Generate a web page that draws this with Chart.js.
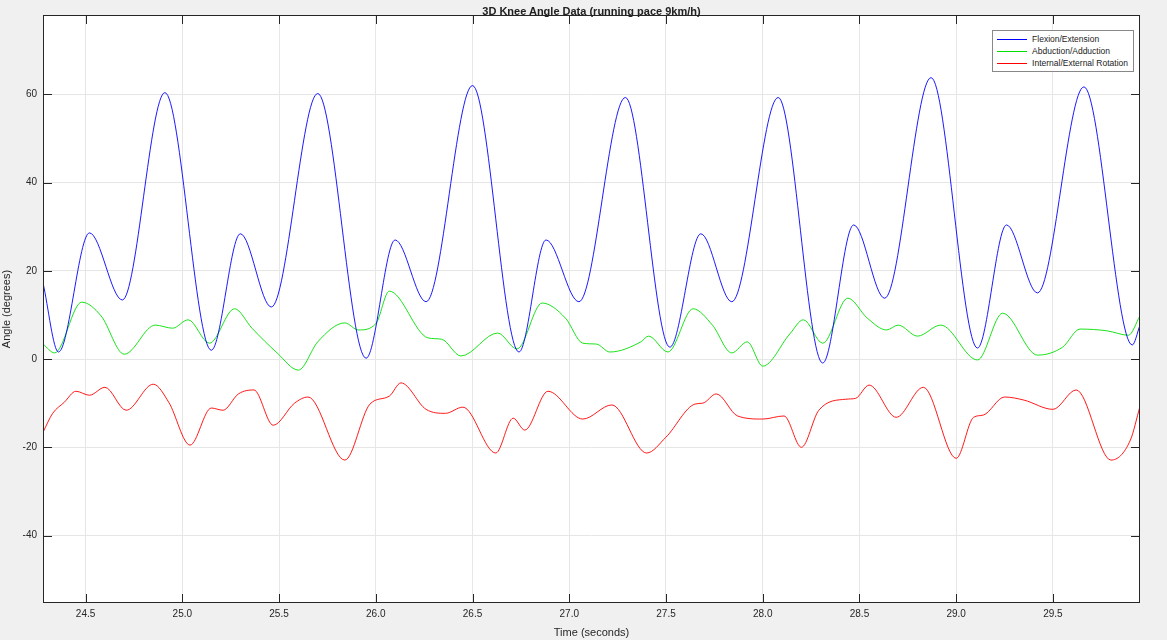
<!DOCTYPE html>
<html>
<head>
<meta charset="utf-8">
<script src="https://cdn.jsdelivr.net/npm/chart.js@4"></script>
<style>
  body { margin: 0; background: #f0f0f0; font-family: "Liberation Sans", Arial, sans-serif; }
  #wrap { position: relative; width: 1167px; height: 640px; }
  #title { position: absolute; top: 5px; left: 43px; width: 1097px; text-align: center; font-size: 11px; font-weight: bold; color: #222; }
  #legend { position: absolute; top: 30px; right: 33px; background: #fff; border: 1px solid #888; padding: 2px 5px 2px 4px; font-size: 8.5px; color: #222; line-height: 12px; }
  #legend span.sw { display: inline-block; width: 30px; height: 1px; vertical-align: middle; margin-right: 5px; }
</style>
</head>
<body>
<div id="wrap">
  <canvas id="c" width="1167" height="640"></canvas>
  <div id="title">3D Knee Angle Data (running pace 9km/h)</div>
  <div id="legend">
    <div><span class="sw" style="background:#0000ff"></span>Flexion/Extension</div>
    <div><span class="sw" style="background:#00e000"></span>Abduction/Adduction</div>
    <div><span class="sw" style="background:#ff0000"></span>Internal/External Rotation</div>
  </div>
</div>
<script>
// Keypoints (time in s, angle in degrees)
const flexT = [24.28,24.36,24.52,24.69,24.91,25.15,25.30,25.46,25.70,25.95,26.10,26.26,26.50,26.74,26.88,27.05,27.29,27.52,27.68,27.84,28.08,28.31,28.47,28.63,28.87,29.11,29.26,29.42,29.66,29.91,29.95];
const flexV = [17.3,1.6,28.6,13.4,60.4,2.0,28.4,11.8,60.2,0.2,27.0,13.0,62.0,1.6,27.0,13.0,59.3,2.7,28.4,13.0,59.3,-0.9,30.4,13.8,63.8,2.5,30.4,15.0,61.7,3.2,7.7];

const abdT = [24.28,24.34,24.48,24.58,24.70,24.86,24.95,25.03,25.14,25.27,25.36,25.49,25.60,25.70,25.84,25.91,26.00,26.07,26.27,26.34,26.44,26.63,26.73,26.86,26.98,27.07,27.14,27.21,27.37,27.41,27.51,27.64,27.74,27.84,27.92,28.00,28.14,28.21,28.31,28.44,28.54,28.64,28.70,28.80,28.92,29.11,29.24,29.42,29.55,29.64,29.78,29.89,29.95];
const abdV = [3.4,1.4,12.9,9.8,1.1,7.7,7.0,8.9,3.6,11.4,7.0,1.4,-2.5,3.9,8.2,6.6,8.0,15.4,4.8,4.5,0.7,5.9,2.3,12.7,9.3,3.6,3.4,1.6,3.9,5.2,1.6,11.4,7.7,1.4,3.9,-1.6,5.7,8.9,3.6,13.8,9.3,6.6,7.7,5.2,7.7,-0.2,10.4,0.9,2.7,6.8,6.4,5.4,9.8];

const rotT = [24.28,24.33,24.39,24.45,24.52,24.60,24.71,24.85,24.93,25.04,25.15,25.21,25.29,25.37,25.47,25.58,25.65,25.84,25.97,26.07,26.13,26.26,26.36,26.45,26.62,26.71,26.77,26.89,27.07,27.22,27.40,27.50,27.65,27.69,27.76,27.87,28.00,28.11,28.20,28.29,28.43,28.48,28.55,28.69,28.83,29.00,29.09,29.14,29.25,29.35,29.50,29.62,29.80,29.90,29.95];
const rotV = [-16.6,-12.3,-9.8,-7.3,-8.2,-6.4,-11.6,-5.7,-9.8,-19.5,-11.1,-11.6,-7.9,-7.0,-15.0,-10.0,-8.6,-22.9,-10.2,-8.4,-5.4,-11.4,-12.3,-10.9,-21.3,-13.4,-16.1,-7.3,-13.6,-10.4,-21.3,-17.7,-10.2,-10.0,-7.9,-12.9,-13.6,-12.9,-20.0,-11.6,-9.1,-8.9,-5.9,-13.2,-6.4,-22.5,-13.2,-12.7,-8.6,-9.3,-11.4,-7.0,-22.9,-18.4,-10.7];

const xTicks = [24.5,25,25.5,26,26.5,27,27.5,28,28.5,29,29.5];
const yTicks = [-40,-20,0,20,40,60];

function pts(t, v) { return t.map((x, i) => ({ x: x, y: v[i] })); }

function ds(label, t, v, color) {
    return {
        label: label,
        data: pts(t, v),
        borderColor: color,
        borderWidth: 0.9,
        pointRadius: 0,
        cubicInterpolationMode: 'monotone',
        fill: false
    };
}

// white plot area + frame with inward ticks
const framePlugin = {
    id: 'frame',
    beforeDraw(chart) {
        const a = chart.chartArea, ctx = chart.ctx;
        ctx.save();
        ctx.fillStyle = '#fff';
        ctx.fillRect(a.left, a.top, a.right - a.left, a.bottom - a.top);
        ctx.restore();
    },
    afterDraw(chart) {
        const a = chart.chartArea, ctx = chart.ctx;
        const xs = chart.scales.x, ys = chart.scales.y;
        ctx.save();
        ctx.strokeStyle = '#262626';
        ctx.lineWidth = 1;
        ctx.strokeRect(a.left + 0.5, a.top + 0.5, a.right - a.left - 1, a.bottom - a.top - 1);
        ctx.beginPath();
        xTicks.forEach(t => {
            const p = Math.round(xs.getPixelForValue(t)) + 0.5;
            ctx.moveTo(p, a.bottom); ctx.lineTo(p, a.bottom - 9);
            ctx.moveTo(p, a.top); ctx.lineTo(p, a.top + 9);
        });
        yTicks.forEach(t => {
            const p = Math.round(ys.getPixelForValue(t)) + 0.5;
            ctx.moveTo(a.left, p); ctx.lineTo(a.left + 9, p);
            ctx.moveTo(a.right, p); ctx.lineTo(a.right - 9, p);
        });
        ctx.stroke();
        ctx.restore();
    }
};

new Chart(document.getElementById('c'), {
    type: 'line',
    data: {
        datasets: [
            ds('Flexion/Extension', flexT, flexV, '#0000ff'),
            ds('Abduction/Adduction', abdT, abdV, '#00e000'),
            ds('Internal/External Rotation', rotT, rotV, '#ff0000')
        ]
    },
    options: {
        responsive: false,
        animation: false,
        layout: { padding: { top: 15, right: 27, left: 0, bottom: 0 } },
        plugins: { legend: { display: false }, tooltip: { enabled: false } },
        scales: {
            x: {
                type: 'linear', min: 24.28, max: 29.95,
                afterBuildTicks: s => { s.ticks = xTicks.map(v => ({ value: v })); },
                afterFit: s => { s.height = 37; },
                grid: { color: '#e6e6e6', drawTicks: false },
                border: { display: false },
                ticks: { color: '#262626', font: { size: 10, family: 'Liberation Sans' }, padding: 5, maxRotation: 0 },
                title: { display: true, text: 'Time (seconds)', color: '#262626', font: { size: 11, family: 'Liberation Sans' }, padding: 0 }
            },
            y: {
                min: -55.3, max: 78,
                afterBuildTicks: s => { s.ticks = yTicks.map(v => ({ value: v })); },
                afterFit: s => { s.width = 43; },
                grid: { color: '#e6e6e6', drawTicks: false },
                border: { display: false },
                ticks: { color: '#262626', font: { size: 10, family: 'Liberation Sans' }, padding: 6 },
                title: { display: true, text: 'Angle (degrees)', color: '#262626', font: { size: 11, family: 'Liberation Sans' }, padding: 0 }
            }
        }
    },
    plugins: [framePlugin]
});
</script>
</body>
</html>
